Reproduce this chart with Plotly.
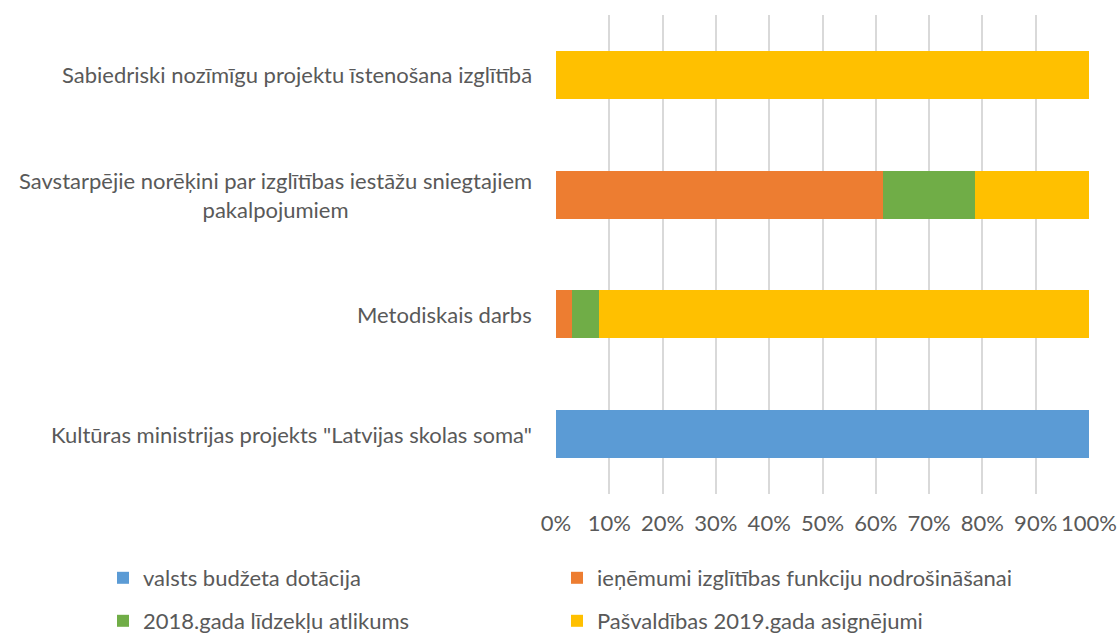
import plotly.graph_objects as go

# Budget programme lines, bottom to top
categories = [
    'Kultūras ministrijas projekts "Latvijas skolas soma"',
    "Metodiskais darbs",
    "Savstarpējie norēķini par izglītības iestāžu sniegtajiem<br>pakalpojumiem",
    "Sabiedriski nozīmīgu projektu īstenošana izglītībā",
]

# Share of each funding source, %
series_names = [
    "valsts budžeta dotācija",
    "ieņēmumi izglītības funkciju nodrošināšanai",
    "2018.gada līdzekļu atlikums",
    "Pašvaldības 2019.gada asignējumi",
]
valsts_budzeta_dotacija = [100.0, 0.0, 0.0, 0.0]
ienemumi_izglitibas_funkcijam = [0.0, 3.0, 61.3, 0.0]
atlikums_2018 = [0.0, 5.1, 17.4, 0.0]
pasvaldibas_asignejumi_2019 = [0.0, 91.9, 21.3, 100.0]

x_ticks = list(range(0, 101, 10))

colors = ["#5b9bd5", "#ed7d31", "#70ad47", "#ffc000"]
series_values = [
    valsts_budzeta_dotacija,
    ienemumi_izglitibas_funkcijam,
    atlikums_2018,
    pasvaldibas_asignejumi_2019,
]
legend_ids = ["legend", "legend", "legend2", "legend2"]

FONT = "Lato, 'Open Sans', sans-serif"
FONT_SIZE = 22
TEXT_COLOR = "#595959"

# plot area in pixels
W, H = 1117, 635
M_L, M_R, M_T, M_B = 556, 28, 15, 141
PLOT_W = W - M_L - M_R
PLOT_H = H - M_T - M_B

fig = go.Figure()
for name, vals, col, lg in zip(series_names, series_values, colors, legend_ids):
    fig.add_trace(
        go.Bar(
            y=categories,
            x=vals,
            name=name,
            orientation="h",
            marker=dict(color=col, line=dict(width=0)),
            legend=lg,
        )
    )

# category labels, each line centred within its block
for cat in categories:
    fig.add_annotation(
        x=0,
        xref="paper",
        y=cat,
        yref="y",
        text=cat,
        showarrow=False,
        xanchor="right",
        yanchor="middle",
        align="center",
        xshift=-22,
        font=dict(family=FONT, size=FONT_SIZE, color=TEXT_COLOR),
    )

legend_left_px = 103
legend_common = dict(
    orientation="h",
    xref="paper",
    yref="paper",
    x=(legend_left_px - M_L) / PLOT_W,
    xanchor="left",
    yanchor="middle",
    entrywidth=409,
    entrywidthmode="pixels",
    font=dict(family=FONT, size=FONT_SIZE, color=TEXT_COLOR),
    bgcolor="rgba(0,0,0,0)",
    traceorder="normal",
)


def legend_y(row_center_px):
    return ((H - M_B) - row_center_px) / PLOT_H


fig.update_layout(
    width=W,
    height=H,
    paper_bgcolor="white",
    plot_bgcolor="white",
    barmode="stack",
    bargap=0.6,
    margin=dict(l=M_L, r=M_R, t=M_T, b=M_B, autoexpand=False),
    font=dict(family=FONT, size=FONT_SIZE, color=TEXT_COLOR),
    xaxis=dict(
        range=[0, 100],
        tickvals=x_ticks,
        ticktext=[f"{v}%" for v in x_ticks],
        showgrid=True,
        gridcolor="#d9d9d9",
        gridwidth=2,
        zeroline=False,
        showline=False,
        ticks="",
        ticklabelstandoff=14,
        tickfont=dict(family=FONT, size=FONT_SIZE, color=TEXT_COLOR),
        fixedrange=True,
    ),
    yaxis=dict(
        showticklabels=False,
        showgrid=False,
        zeroline=False,
        showline=False,
        ticks="",
        fixedrange=True,
    ),
    legend=dict(legend_common, y=legend_y(578)),
    legend2=dict(legend_common, y=legend_y(621)),
    showlegend=True,
)

fig.write_html("out.html")
